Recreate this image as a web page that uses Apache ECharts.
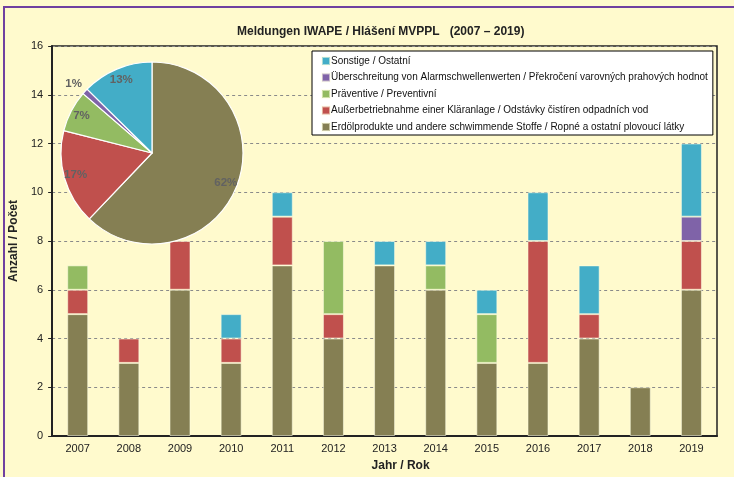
<!DOCTYPE html>
<html>
<head>
<meta charset="utf-8">
<script src="https://cdn.jsdelivr.net/npm/echarts@6/dist/echarts.min.js"></script>
<style>
  html, body { margin: 0; padding: 0; background: #fffacd; }
  #chart { width: 734px; height: 477px; }
</style>
</head>
<body>
<div id="chart"></div>
<script>
// Jahre / Roky
var years = ['2007', '2008', '2009', '2010', '2011', '2012', '2013', '2014', '2015', '2016', '2017', '2018', '2019']
// Meldungen pro Kategorie
var oil     = [5, 3, 6, 3, 7, 4, 7, 6, 3, 3, 4, 2, 6]
var plant   = [1, 1, 2, 1, 2, 1, 0, 0, 0, 5, 1, 0, 2]
var prevent = [1, 0, 0, 0, 0, 3, 0, 1, 2, 0, 0, 0, 0]
var alarm   = [0, 0, 0, 0, 0, 0, 0, 0, 0, 0, 0, 0, 1]
var other   = [0, 0, 0, 1, 1, 0, 1, 1, 1, 2, 2, 0, 3]

var names = [
  'Erdölprodukte und andere schwimmende Stoffe / Ropné a ostatní plovoucí látky',
  'Außerbetriebnahme einer Kläranlage / Odstávky čistíren odpadních vod',
  'Präventive / Preventivní',
  'Überschreitung von Alarmschwellenwerten / Překročení varovných prahových hodnot',
  'Sonstige / Ostatní'
]
var colors = ['#857f53', '#c0504d', '#93bb62', '#7f63a8', '#43adc7']
var values = [oil, plant, prevent, alarm, other]

var font = 'Arial, "Liberation Sans", sans-serif'

function sum(arr) {
  return arr.reduce(function (a, b) { return a + b }, 0)
}

var barSeries = values.map(function (arr, i) {
  return {
    name: names[i],
    type: 'bar',
    stack: 'total',
    barWidth: 21,
    // leere Segmente nicht zeichnen
    data: arr.map(function (v) { return v || null }),
    itemStyle: { color: colors[i], borderColor: 'rgba(255,255,230,0.55)', borderWidth: 1 }
  }
})

var pieData = values.map(function (arr, i) {
  return { name: names[i], value: sum(arr), itemStyle: { color: colors[i] } }
})

// nur fuer die Beschriftung (Ring, durchsichtig)
var pieLabels = values.map(function (arr, i) {
  var item = { name: names[i], value: sum(arr) }
  if (sum(arr) / sum(values.map(sum)) < 0.03) {
    item.label = { position: 'outside', distanceToLabelLine: -7 }
    item.labelLine = { show: false, length: 11, length2: 2 }
  }
  return item
})

var chart = echarts.init(document.getElementById('chart'))
chart.setOption({
  backgroundColor: '#fffacd',
  animation: false,
  textStyle: { fontFamily: font },
  title: {
    text: 'Meldungen IWAPE / Hlášení MVPPL   (2007 – 2019)',
    left: 237,
    top: 26,
    padding: 0,
    textStyle: { fontSize: 12, fontWeight: 'bold', color: '#222', fontFamily: font }
  },
  legend: {
    data: names.slice().reverse(),
    orient: 'vertical',
    left: 312,
    top: 51,
    padding: [5, 5, 3, 9],
    itemGap: 6.5,
    itemWidth: 8,
    itemHeight: 8,
    icon: 'rect',
    backgroundColor: '#fff',
    borderColor: '#000',
    borderWidth: 1,
    borderRadius: 0,
    textStyle: { fontSize: 10, color: '#111', padding: [0, 0, 0, -4], fontFamily: font }
  },
  grid: {
    left: 48, top: 46, right: 17, bottom: 39,
    show: true,
    borderColor: '#222',
    borderWidth: 1.5,
    backgroundColor: 'transparent'
  },
  xAxis: {
    type: 'category',
    data: years,
    name: 'Jahr / Rok',
    nameLocation: 'middle',
    nameGap: 24,
    nameTextStyle: { fontSize: 12, fontWeight: 'bold', color: '#222', padding: [0, 0, 0, 32] },
    axisLine: { lineStyle: { color: '#222', width: 2 } },
    axisTick: { length: 4, lineStyle: { color: '#222' } },
    axisLabel: { fontSize: 11, color: '#222', margin: 7 }
  },
  yAxis: {
    type: 'value',
    min: 0,
    max: 16,
    interval: 2,
    name: 'Anzahl / Počet',
    nameLocation: 'middle',
    nameGap: 30,
    nameTextStyle: { fontSize: 12, fontWeight: 'bold', color: '#222' },
    axisLine: { show: true, lineStyle: { color: '#222', width: 2 } },
    axisTick: { show: true, length: 4, lineStyle: { color: '#222' } },
    axisLabel: { fontSize: 11, color: '#222', margin: 9 },
    splitLine: { lineStyle: { color: '#8a8a8a', type: [3, 3], width: 1 } }
  },
  graphic: [{
    type: 'rect',
    shape: { x: 4, y: 7, width: 800, height: 520 },
    style: { fill: 'none', stroke: '#7040a0', lineWidth: 2 },
    silent: true
  }],
  series: barSeries.concat([
    {
      type: 'pie',
      z: 5,
      center: [152, 153],
      radius: [0, 91],
      startAngle: 90,
      data: pieData,
      label: { show: false },
      labelLine: { show: false },
      itemStyle: { borderColor: '#fff', borderWidth: 1.2 },
      silent: true
    },
    {
      type: 'pie',
      z: 6,
      center: [152, 153],
      radius: [62, 91],
      startAngle: 90,
      avoidLabelOverlap: false,
      data: pieLabels,
      itemStyle: { color: 'transparent' },
      label: {
        show: true,
        position: 'inside',
        formatter: function (p) { return Math.round(p.percent) + '%' },
        fontSize: 11.5,
        fontWeight: 'bold',
        color: '#626262'
      },
      emphasis: { disabled: true },
      silent: true
    }
  ])
})
</script>
</body>
</html>
